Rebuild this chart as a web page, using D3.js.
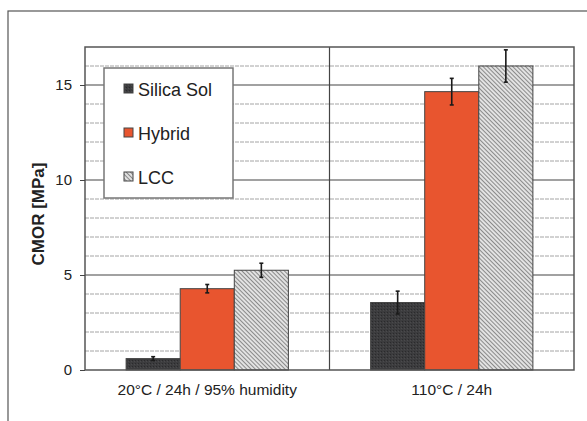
<!DOCTYPE html>
<html>
<head>
<meta charset="utf-8">
<script src="https://cdn.jsdelivr.net/npm/d3@7"></script>
<style>
  body { margin: 0; background: #fff; }
  text { font-family: "Liberation Sans", Arial, sans-serif; fill: #222; }
</style>
</head>
<body>
<script>
// data
var categories = ["20°C / 24h / 95% humidity", "110°C / 24h"];
var series = ["Silica Sol", "Hybrid", "LCC"];
var silicaSol = [0.6, 3.55];
var silicaSolErr = [0.1, 0.6];
var hybrid = [4.28, 14.65];
var hybridErr = [0.22, 0.7];
var lcc = [5.25, 16.0];
var lccErr = [0.37, 0.85];
var yTicks = [0, 5, 10, 15];
var yMax = 17;

var w = 587, h = 421;
var plot = { left: 85, top: 47, right: 574, bottom: 370 };

var values = [silicaSol, hybrid, lcc];
var errors = [silicaSolErr, hybridErr, lccErr];

var svg = d3.select("body").append("svg").attr("width", w).attr("height", h);

var defs = svg.append("defs");
var dark = defs.append("pattern").attr("id", "darkPat").attr("patternUnits", "userSpaceOnUse")
  .attr("width", 3).attr("height", 3);
dark.append("rect").attr("width", 3).attr("height", 3).attr("fill", "#3c3c3e");
dark.append("rect").attr("width", 1).attr("height", 1).attr("fill", "#2a2a2c");
dark.append("rect").attr("x", 2).attr("y", 1).attr("width", 1).attr("height", 1).attr("fill", "#4a4a4c");

var hatch = defs.append("pattern").attr("id", "hatch").attr("patternUnits", "userSpaceOnUse")
  .attr("width", 3).attr("height", 3).attr("patternTransform", "rotate(-45)");
hatch.append("rect").attr("width", 3).attr("height", 3).attr("fill", "#e2e2e2");
hatch.append("line").attr("x1", 0.5).attr("y1", 0).attr("x2", 0.5).attr("y2", 3)
  .attr("stroke", "#8a8a8a").attr("stroke-width", 1);

var fills = { "Silica Sol": "url(#darkPat)", "Hybrid": "#e8552f", "LCC": "url(#hatch)" };

// outer frame
svg.append("rect").attr("x", 8).attr("y", 11).attr("width", 700).attr("height", 500)
  .attr("fill", "none").attr("stroke", "#555").attr("stroke-width", 1.2);

var y = d3.scaleLinear().domain([0, yMax]).range([plot.bottom, plot.top]);
var x0 = d3.scaleBand().domain(categories).range([plot.left, plot.right]).padding(0);
var x1 = d3.scaleBand().domain(series).range([0, x0.bandwidth()]).paddingInner(0).paddingOuter(0.76);

// minor gridlines
svg.append("g").selectAll("line").data(d3.range(1, yMax).filter(function (v) { return v % 5 !== 0; }))
  .enter().append("line")
  .attr("x1", plot.left).attr("x2", plot.right)
  .attr("y1", function (d) { return y(d); }).attr("y2", function (d) { return y(d); })
  .attr("stroke", "#a4a4a4").attr("stroke-width", 1).attr("stroke-dasharray", "4,1");

// major gridlines
svg.append("g").selectAll("line").data(yTicks.filter(function (v) { return v > 0; }))
  .enter().append("line")
  .attr("x1", plot.left).attr("x2", plot.right)
  .attr("y1", function (d) { return y(d); }).attr("y2", function (d) { return y(d); })
  .attr("stroke", "#444").attr("stroke-width", 1.2);

// divider between groups
svg.append("line").attr("x1", x0(categories[1])).attr("x2", x0(categories[1]))
  .attr("y1", plot.top).attr("y2", plot.bottom).attr("stroke", "#444").attr("stroke-width", 1.2);

// bars
var rows = [];
categories.forEach(function (c, i) {
  series.forEach(function (s, j) {
    rows.push({ cat: c, ser: s, v: values[j][i], e: errors[j][i] });
  });
});

var bars = svg.append("g");
bars.selectAll("rect").data(rows).enter().append("rect")
  .attr("x", function (d) { return x0(d.cat) + x1(d.ser); })
  .attr("y", function (d) { return y(d.v); })
  .attr("width", x1.bandwidth())
  .attr("height", function (d) { return y(0) - y(d.v); })
  .attr("fill", function (d) { return fills[d.ser]; })
  .attr("stroke", "#444").attr("stroke-width", 1);

// error bars
var eb = svg.append("g").attr("stroke", "#1a1a1a").attr("stroke-width", 1.6);
rows.forEach(function (d) {
  var cx = x0(d.cat) + x1(d.ser) + x1.bandwidth() / 2;
  eb.append("line").attr("x1", cx).attr("x2", cx).attr("y1", y(d.v + d.e)).attr("y2", y(d.v - d.e));
  eb.append("line").attr("x1", cx - 2).attr("x2", cx + 2).attr("y1", y(d.v + d.e)).attr("y2", y(d.v + d.e));
  eb.append("line").attr("x1", cx - 2).attr("x2", cx + 2).attr("y1", y(d.v - d.e)).attr("y2", y(d.v - d.e));
});

// plot frame
svg.append("rect").attr("x", plot.left).attr("y", plot.top)
  .attr("width", plot.right - plot.left).attr("height", plot.bottom - plot.top)
  .attr("fill", "none").attr("stroke", "#555").attr("stroke-width", 1.5);

// y axis
var yAxis = svg.append("g").attr("transform", "translate(" + plot.left + ",0)")
  .call(d3.axisLeft(y).tickValues(yTicks).tickSize(5).tickPadding(8));
yAxis.select(".domain").remove();
yAxis.selectAll("line").attr("stroke", "#444");
yAxis.selectAll("text").attr("font-size", 15).attr("fill", "#222")
  .style("font-family", "'Liberation Sans', Arial, sans-serif");

svg.append("text").attr("transform", "translate(44,214) rotate(-90)")
  .attr("text-anchor", "middle").attr("font-size", 17).attr("font-weight", "bold")
  .text("CMOR [MPa]");

// x labels
svg.append("g").selectAll("text").data(categories).enter().append("text")
  .attr("x", function (d) { return x0(d) + x0.bandwidth() / 2; })
  .attr("y", 395).attr("text-anchor", "middle").attr("font-size", 15.5)
  .text(function (d) { return d; });

// legend
var lg = svg.append("g");
lg.append("rect").attr("x", 104).attr("y", 68).attr("width", 129).attr("height", 130)
  .attr("fill", "#fff").attr("stroke", "#777").attr("stroke-width", 1.5);
series.forEach(function (s, i) {
  var cy = 89 + i * 44;
  lg.append("rect").attr("x", 124).attr("y", cy - 5).attr("width", 9).attr("height", 9)
    .attr("fill", fills[s]).attr("stroke", "#444").attr("stroke-width", 1);
  lg.append("text").attr("x", 138).attr("y", cy + 6.5).attr("font-size", 18).text(s);
});
</script>
</body>
</html>
